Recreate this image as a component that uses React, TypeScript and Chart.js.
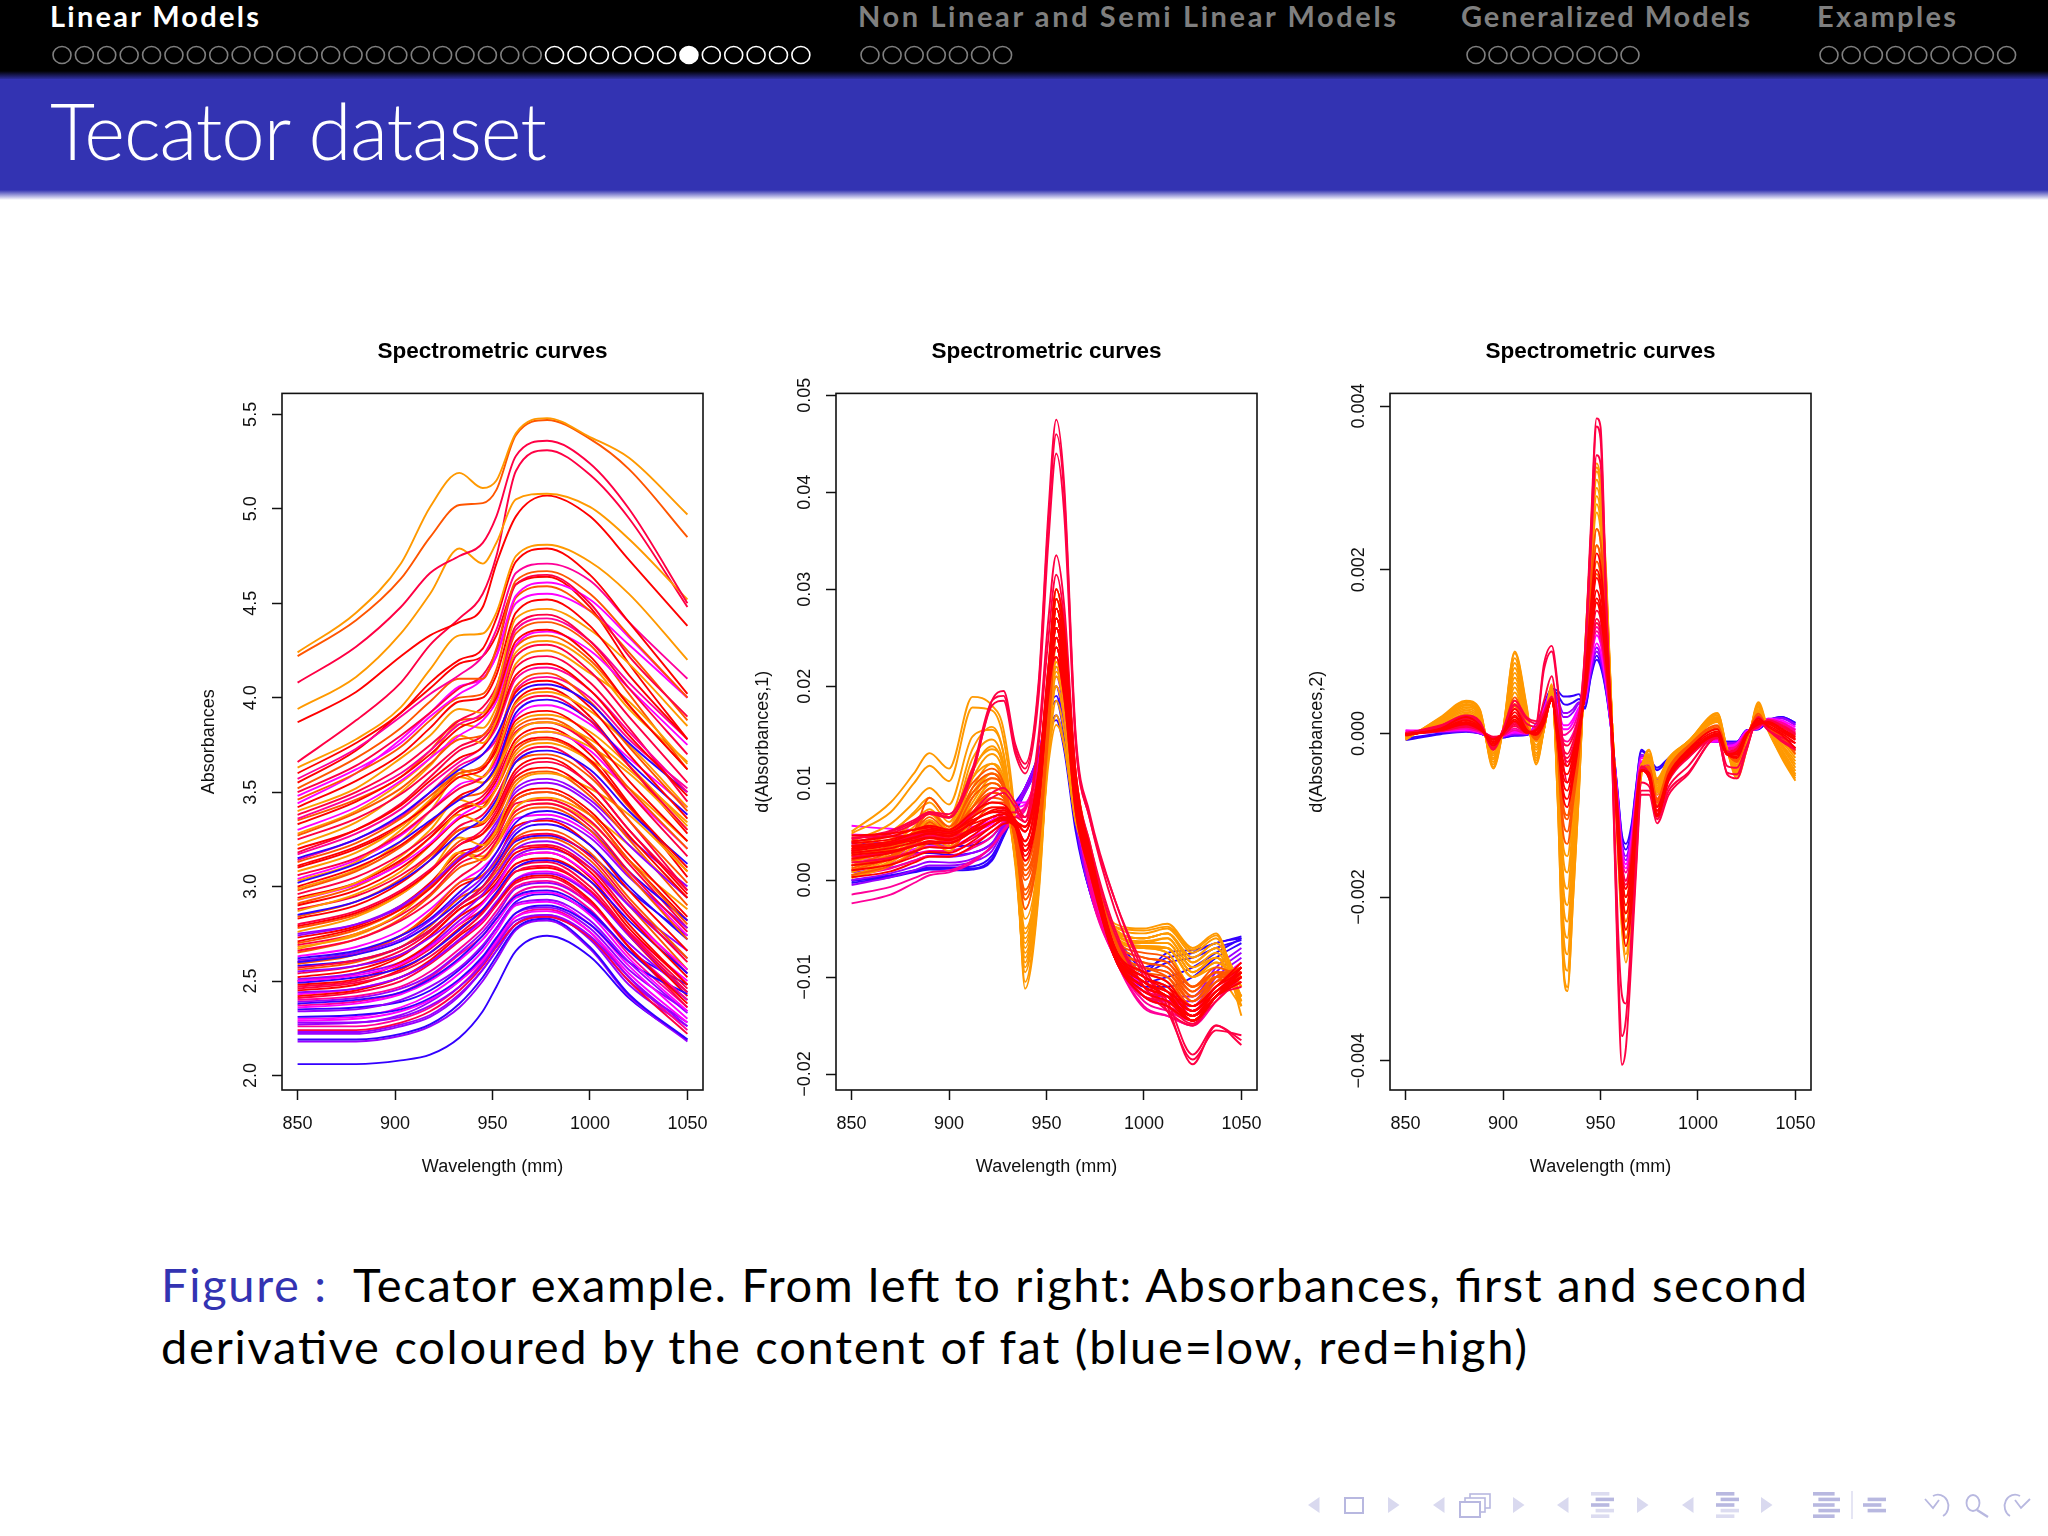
import { useEffect, useRef } from 'react';
import { Chart, registerables } from 'chart.js';

Chart.register(...registerables);

const sans = '"Liberation Sans", Arial, sans-serif';
const slideFont = 'Lato, "Noto Sans", sans-serif';

// fat classes, low to high
const fatPalette = ['#3300ff', '#9900ff', '#ff00ff', '#ff0099', '#ff0044', '#ff0000', '#ff5500', '#ff9900'];
// draw rank of each fat class in the derivative panels, lowest is on top
const fatLayers = [7, 6, 5, 4, 1, 0, 2, 3];

const xTicks = [850, 900, 950, 1000, 1050];
const xTickLabels = ['850', '900', '950', '1000', '1050'];

// --- absorbances
const absorbanceWavelengths = [850, 880, 903, 918, 933, 945, 952, 962, 978, 1000, 1020, 1050];
const absorbanceTicks = [2, 2.5, 3, 3.5, 4, 4.5, 5, 5.5];
const absorbanceTickLabels = ['2.0', '2.5', '3.0', '3.5', '4.0', '4.5', '5.0', '5.5'];
const absorbanceFat = [7, 6, 4, 7, 5, 4, 7, 5, 3, 6, 4, 2, 6, 5, 7, 4, 3, 5, 2, 6, 4, 7, 5, 3, 0, 6, 5, 7, 4, 0, 5, 7, 6, 4, 7, 2, 5, 7, 0, 6, 4, 5, 7, 1, 5, 6, 7, 4, 6, 0, 1, 0, 6, 4, 1, 5, 2, 0, 5, 4, 1, 5, 3, 0, 2, 1, 0, 2, 1, 4, 1, 0, 1, 0,
  5, 2, 6, 7, 4, 3, 5, 2, 7, 5, 6, 4, 5, 6, 1, 5, 4, 7, 2, 5, 0, 6, 4, 1, 5, 4, 5, 2, 4, 1, 3, 0, 2, 1, 3, 1];
const absorbanceCurves = [
  [4.24, 4.45, 4.71, 5.01, 5.19, 5.11, 5.15, 5.40, 5.48, 5.38, 5.27, 4.97],
  [4.22, 4.41, 4.63, 4.85, 5.02, 5.03, 5.10, 5.39, 5.47, 5.37, 5.21, 4.85],
  [4.08, 4.27, 4.48, 4.66, 4.75, 4.82, 4.96, 5.28, 5.36, 5.24, 5.00, 4.50],
  [3.94, 4.11, 4.34, 4.55, 4.79, 4.71, 4.82, 5.05, 5.08, 5.01, 4.84, 4.52],
  [3.87, 4.03, 4.22, 4.33, 4.40, 4.48, 4.71, 4.96, 5.07, 4.96, 4.73, 4.38],
  [3.66, 3.88, 4.08, 4.28, 4.42, 4.55, 4.75, 5.20, 5.31, 5.18, 4.95, 4.48],
  [3.63, 3.78, 3.95, 4.15, 4.33, 4.34, 4.45, 4.75, 4.81, 4.72, 4.55, 4.20],
  [3.60, 3.76, 3.92, 4.08, 4.20, 4.26, 4.42, 4.72, 4.79, 4.65, 4.40, 4.02],
  [3.57, 3.73, 3.90, 4.02, 4.12, 4.22, 4.36, 4.66, 4.71, 4.62, 4.40, 4.10],
  [3.52, 3.68, 3.84, 3.98, 4.10, 4.10, 4.26, 4.62, 4.67, 4.55, 4.33, 4.00],
  [3.50, 3.64, 3.80, 3.92, 4.05, 4.12, 4.25, 4.60, 4.65, 4.50, 4.22, 3.90],
  [3.48, 3.62, 3.76, 3.90, 4.02, 4.10, 4.22, 4.54, 4.61, 4.52, 4.32, 4.00],
  [3.46, 3.60, 3.74, 3.88, 4.00, 4.02, 4.15, 4.53, 4.59, 4.46, 4.24, 3.88],
  [3.42, 3.56, 3.70, 3.84, 3.98, 4.00, 4.12, 4.45, 4.52, 4.38, 4.12, 3.78],
  [3.40, 3.52, 3.68, 3.80, 3.94, 3.92, 4.05, 4.42, 4.47, 4.36, 4.18, 3.85],
  [3.38, 3.50, 3.63, 3.75, 3.88, 3.95, 4.06, 4.38, 4.44, 4.30, 4.05, 3.70],
  [3.36, 3.48, 3.60, 3.72, 3.86, 3.92, 4.04, 4.36, 4.42, 4.30, 4.08, 3.78],
  [3.33, 3.45, 3.58, 3.70, 3.84, 3.90, 4.00, 4.30, 4.36, 4.22, 3.96, 3.62],
  [3.30, 3.42, 3.56, 3.68, 3.80, 3.88, 3.98, 4.28, 4.35, 4.25, 4.05, 3.75],
  [3.27, 3.39, 3.52, 3.65, 3.78, 3.80, 3.92, 4.27, 4.33, 4.20, 3.96, 3.62],
  [3.25, 3.36, 3.49, 3.61, 3.74, 3.80, 3.90, 4.22, 4.28, 4.14, 3.90, 3.55],
  [3.22, 3.34, 3.50, 3.64, 3.80, 3.76, 3.88, 4.18, 4.25, 4.13, 3.98, 3.65],
  [3.20, 3.30, 3.43, 3.56, 3.68, 3.74, 3.86, 4.12, 4.18, 4.04, 3.80, 3.48],
  [3.17, 3.28, 3.41, 3.54, 3.66, 3.74, 3.84, 4.10, 4.16, 4.04, 3.82, 3.50],
  [3.15, 3.25, 3.38, 3.50, 3.62, 3.70, 3.80, 4.01, 4.07, 3.97, 3.76, 3.50],
  [3.13, 3.23, 3.36, 3.48, 3.60, 3.64, 3.76, 4.06, 4.13, 3.98, 3.74, 3.40],
  [3.11, 3.21, 3.33, 3.44, 3.58, 3.62, 3.74, 4.03, 4.09, 3.95, 3.70, 3.36],
  [3.08, 3.18, 3.32, 3.46, 3.62, 3.58, 3.70, 3.97, 4.03, 3.93, 3.75, 3.42],
  [3.06, 3.15, 3.28, 3.40, 3.52, 3.58, 3.68, 3.95, 4.01, 3.88, 3.64, 3.30],
  [3.02, 3.12, 3.24, 3.35, 3.46, 3.54, 3.64, 3.92, 3.99, 3.88, 3.66, 3.38],
  [3.00, 3.10, 3.22, 3.34, 3.48, 3.54, 3.64, 3.88, 3.93, 3.80, 3.56, 3.24],
  [3.03, 3.13, 3.30, 3.44, 3.60, 3.55, 3.62, 3.81, 3.87, 3.78, 3.62, 3.34],
  [2.98, 3.08, 3.21, 3.33, 3.47, 3.50, 3.60, 3.84, 3.89, 3.76, 3.52, 3.20],
  [2.96, 3.05, 3.17, 3.28, 3.42, 3.48, 3.58, 3.82, 3.87, 3.75, 3.50, 3.16],
  [2.93, 3.02, 3.16, 3.30, 3.46, 3.42, 3.52, 3.76, 3.82, 3.74, 3.60, 3.30],
  [2.93, 3.01, 3.12, 3.23, 3.37, 3.45, 3.54, 3.76, 3.82, 3.72, 3.50, 3.20],
  [2.90, 2.98, 3.10, 3.22, 3.36, 3.42, 3.52, 3.74, 3.79, 3.67, 3.43, 3.10],
  [2.87, 2.96, 3.08, 3.22, 3.38, 3.34, 3.44, 3.70, 3.76, 3.67, 3.52, 3.24],
  [2.85, 2.92, 3.03, 3.14, 3.28, 3.36, 3.46, 3.66, 3.72, 3.62, 3.40, 3.12],
  [2.84, 2.92, 3.04, 3.16, 3.30, 3.34, 3.44, 3.66, 3.70, 3.58, 3.35, 3.02],
  [2.80, 2.87, 2.98, 3.09, 3.22, 3.30, 3.40, 3.60, 3.66, 3.54, 3.30, 2.98],
  [2.79, 2.86, 2.97, 3.08, 3.22, 3.28, 3.38, 3.58, 3.63, 3.50, 3.27, 2.94],
  [2.76, 2.84, 2.96, 3.08, 3.26, 3.22, 3.30, 3.54, 3.60, 3.52, 3.38, 3.08],
  [2.74, 2.80, 2.90, 3.01, 3.15, 3.24, 3.34, 3.50, 3.55, 3.44, 3.22, 2.94],
  [2.71, 2.78, 2.88, 2.99, 3.14, 3.22, 3.30, 3.48, 3.52, 3.40, 3.17, 2.84],
  [2.70, 2.77, 2.88, 3.00, 3.16, 3.20, 3.28, 3.46, 3.50, 3.38, 3.14, 2.80],
  [2.67, 2.75, 2.86, 3.00, 3.18, 3.14, 3.22, 3.42, 3.47, 3.38, 3.22, 2.94],
  [2.66, 2.72, 2.82, 2.92, 3.05, 3.14, 3.24, 3.40, 3.44, 3.32, 3.08, 2.76],
  [2.65, 2.72, 2.83, 2.95, 3.10, 3.15, 3.22, 3.38, 3.42, 3.30, 3.06, 2.72],
  [2.62, 2.66, 2.74, 2.83, 2.97, 3.08, 3.18, 3.34, 3.40, 3.30, 3.08, 2.82],
  [2.61, 2.65, 2.72, 2.82, 2.95, 3.05, 3.15, 3.30, 3.36, 3.26, 3.05, 2.78],
  [2.60, 2.64, 2.71, 2.80, 2.92, 3.03, 3.12, 3.28, 3.33, 3.22, 3.00, 2.72],
  [2.59, 2.64, 2.74, 2.86, 3.02, 3.06, 3.13, 3.26, 3.30, 3.18, 2.94, 2.62],
  [2.57, 2.61, 2.68, 2.77, 2.90, 3.00, 3.10, 3.25, 3.28, 3.16, 2.92, 2.60],
  [2.55, 2.58, 2.64, 2.73, 2.85, 2.96, 3.06, 3.20, 3.24, 3.12, 2.90, 2.62],
  [2.52, 2.56, 2.64, 2.74, 2.88, 2.96, 3.04, 3.18, 3.21, 3.08, 2.84, 2.52],
  [2.50, 2.53, 2.59, 2.68, 2.80, 2.91, 3.00, 3.15, 3.18, 3.06, 2.84, 2.56],
  [2.49, 2.52, 2.57, 2.65, 2.77, 2.88, 2.97, 3.10, 3.14, 3.03, 2.82, 2.54],
  [2.48, 2.51, 2.60, 2.70, 2.84, 2.92, 2.99, 3.12, 3.15, 3.03, 2.78, 2.48],
  [2.46, 2.49, 2.55, 2.63, 2.75, 2.86, 2.95, 3.08, 3.11, 2.98, 2.75, 2.44],
  [2.44, 2.46, 2.52, 2.60, 2.72, 2.83, 2.92, 3.04, 3.07, 2.96, 2.74, 2.44],
  [2.42, 2.45, 2.52, 2.61, 2.74, 2.83, 2.91, 3.03, 3.06, 2.93, 2.68, 2.38],
  [2.40, 2.42, 2.47, 2.55, 2.67, 2.78, 2.87, 3.00, 3.03, 2.91, 2.68, 2.40],
  [2.38, 2.40, 2.44, 2.51, 2.62, 2.74, 2.83, 2.95, 2.98, 2.87, 2.66, 2.40],
  [2.36, 2.38, 2.43, 2.50, 2.61, 2.72, 2.81, 2.94, 2.97, 2.85, 2.62, 2.34],
  [2.34, 2.35, 2.40, 2.47, 2.57, 2.69, 2.78, 2.91, 2.93, 2.82, 2.60, 2.33],
  [2.31, 2.32, 2.35, 2.41, 2.51, 2.63, 2.73, 2.86, 2.90, 2.80, 2.60, 2.43],
  [2.29, 2.30, 2.34, 2.40, 2.50, 2.61, 2.71, 2.84, 2.87, 2.76, 2.54, 2.28],
  [2.27, 2.28, 2.31, 2.37, 2.47, 2.59, 2.69, 2.82, 2.85, 2.74, 2.52, 2.26],
  [2.24, 2.24, 2.28, 2.34, 2.45, 2.58, 2.68, 2.80, 2.84, 2.73, 2.50, 2.22],
  [2.23, 2.23, 2.27, 2.32, 2.43, 2.56, 2.66, 2.80, 2.84, 2.73, 2.50, 2.28],
  [2.19, 2.19, 2.22, 2.27, 2.38, 2.52, 2.63, 2.78, 2.83, 2.68, 2.43, 2.19],
  [2.18, 2.18, 2.21, 2.26, 2.36, 2.50, 2.61, 2.77, 2.82, 2.67, 2.42, 2.18],
  [2.06, 2.06, 2.08, 2.11, 2.20, 2.34, 2.47, 2.66, 2.74, 2.63, 2.41, 2.19],
  [3.55, 3.72, 3.92, 4.05, 4.18, 4.22, 4.33, 4.60, 4.64, 4.48, 4.18, 3.78],
  [3.44, 3.60, 3.78, 3.92, 4.06, 4.10, 4.22, 4.50, 4.55, 4.46, 4.28, 4.00],
  [3.35, 3.46, 3.58, 3.72, 3.88, 3.90, 4.02, 4.34, 4.40, 4.28, 4.02, 3.62],
  [3.28, 3.40, 3.55, 3.68, 3.86, 3.84, 3.95, 4.24, 4.30, 4.18, 3.94, 3.66],
  [3.18, 3.30, 3.44, 3.58, 3.72, 3.78, 3.88, 4.16, 4.22, 4.08, 3.84, 3.45],
  [3.14, 3.25, 3.37, 3.50, 3.64, 3.70, 3.78, 4.04, 4.11, 4.00, 3.78, 3.52],
  [3.10, 3.20, 3.32, 3.45, 3.60, 3.63, 3.72, 3.98, 4.05, 3.90, 3.64, 3.28],
  [3.04, 3.14, 3.27, 3.40, 3.54, 3.58, 3.66, 3.90, 3.96, 3.86, 3.68, 3.42],
  [2.99, 3.09, 3.24, 3.40, 3.58, 3.55, 3.62, 3.86, 3.91, 3.82, 3.64, 3.32],
  [2.94, 3.02, 3.14, 3.26, 3.40, 3.46, 3.56, 3.78, 3.84, 3.70, 3.44, 3.05],
  [2.91, 3.00, 3.13, 3.26, 3.42, 3.44, 3.52, 3.72, 3.78, 3.66, 3.42, 3.08],
  [2.88, 2.95, 3.06, 3.17, 3.32, 3.38, 3.48, 3.68, 3.74, 3.60, 3.35, 2.98],
  [2.83, 2.90, 3.02, 3.14, 3.30, 3.33, 3.42, 3.62, 3.68, 3.54, 3.30, 2.96],
  [2.78, 2.85, 2.96, 3.08, 3.24, 3.28, 3.36, 3.56, 3.61, 3.48, 3.25, 2.90],
  [2.75, 2.80, 2.89, 3.00, 3.14, 3.22, 3.32, 3.52, 3.57, 3.46, 3.26, 3.00],
  [2.73, 2.79, 2.90, 3.02, 3.18, 3.22, 3.30, 3.46, 3.50, 3.38, 3.14, 2.82],
  [2.69, 2.75, 2.85, 2.96, 3.12, 3.18, 3.26, 3.44, 3.46, 3.35, 3.12, 2.78],
  [2.68, 2.74, 2.86, 3.00, 3.18, 3.16, 3.24, 3.40, 3.44, 3.34, 3.14, 2.88],
  [2.63, 2.68, 2.77, 2.88, 3.02, 3.10, 3.18, 3.36, 3.38, 3.28, 3.06, 2.74],
  [2.60, 2.65, 2.74, 2.85, 3.00, 3.06, 3.14, 3.32, 3.35, 3.22, 2.98, 2.66],
  [2.58, 2.61, 2.68, 2.77, 2.90, 3.00, 3.10, 3.24, 3.27, 3.17, 2.98, 2.74],
  [2.56, 2.60, 2.68, 2.79, 2.94, 3.00, 3.08, 3.22, 3.26, 3.14, 2.90, 2.56],
  [2.54, 2.58, 2.66, 2.76, 2.90, 2.98, 3.06, 3.20, 3.22, 3.10, 2.86, 2.54],
  [2.51, 2.54, 2.60, 2.69, 2.82, 2.92, 3.01, 3.16, 3.20, 3.10, 2.90, 2.66],
  [2.50, 2.54, 2.63, 2.74, 2.88, 2.95, 3.02, 3.15, 3.18, 3.05, 2.80, 2.48],
  [2.47, 2.50, 2.58, 2.67, 2.80, 2.88, 2.96, 3.10, 3.13, 3.00, 2.76, 2.46],
  [2.45, 2.48, 2.56, 2.65, 2.78, 2.87, 2.95, 3.08, 3.10, 2.98, 2.74, 2.42],
  [2.43, 2.46, 2.52, 2.60, 2.72, 2.82, 2.91, 3.04, 3.08, 2.97, 2.76, 2.50],
  [2.41, 2.44, 2.50, 2.59, 2.71, 2.81, 2.90, 3.02, 3.05, 2.92, 2.68, 2.36],
  [2.39, 2.41, 2.46, 2.53, 2.65, 2.76, 2.85, 2.99, 3.02, 2.91, 2.70, 2.44],
  [2.37, 2.39, 2.44, 2.52, 2.64, 2.74, 2.83, 2.96, 3.00, 2.88, 2.64, 2.36],
  [2.35, 2.36, 2.39, 2.45, 2.56, 2.68, 2.78, 2.92, 2.96, 2.86, 2.66, 2.48],
  [2.30, 2.31, 2.36, 2.43, 2.54, 2.66, 2.76, 2.90, 2.92, 2.80, 2.58, 2.30],
  [2.28, 2.28, 2.32, 2.39, 2.50, 2.62, 2.72, 2.86, 2.89, 2.78, 2.56, 2.34],
  [2.26, 2.26, 2.30, 2.36, 2.47, 2.60, 2.70, 2.84, 2.88, 2.76, 2.52, 2.24],
  [2.22, 2.22, 2.26, 2.31, 2.42, 2.56, 2.66, 2.80, 2.85, 2.72, 2.48, 2.26],
];

// --- first derivative, values in units of 0.001
const firstWavelengths = [850, 870, 882, 890, 900, 912, 922, 928, 934, 939, 946, 951, 955, 959, 965, 972, 985, 1000, 1012, 1025, 1037, 1050];
const firstTicks = [-0.02, -0.01, 0, 0.01, 0.02, 0.03, 0.04, 0.05];
const firstTickLabels = ['\u22120.02', '\u22120.01', '0.00', '0.01', '0.02', '0.03', '0.04', '0.05'];
const firstFat = [7, 7, 7, 7, 7, 7, 7, 7, 7, 7, 7, 7, 7, 7, 7, 7, 6, 6, 6, 6, 6, 6, 6, 6, 6, 6, 5, 5, 5, 5, 5, 5, 5, 5, 5, 5, 5, 5, 5, 4, 4, 4, 4, 4, 4, 4, 4, 4, 3, 3, 3, 3, 2, 2, 2, 1, 1, 1, 0, 0, 0, 0, 0];
const firstCurves = [
  [5, 8, 11, 13.1, 11.5, 18.9, 18, 15.5, 6, -11.2, -1.5, 14, 23, 19.5, 8, 2.5, -4.5, -5, -4.5, -7, -5.5, -14],
  [4.8, 7, 10, 11.8, 10.2, 17.8, 17.5, 14.5, 5, -10.5, -1, 14, 22, 18.5, 8, 2.5, -4.8, -5.2, -4.8, -7.2, -5.7, -13],
  [4, 5.8, 8, 9.5, 7.8, 14.8, 15.5, 13, 3.5, -9.5, 0, 14.5, 22.5, 19, 8, 3, -4.8, -5.5, -5, -7.5, -6, -12.5],
  [3.5, 5, 6.8, 8, 6, 11.5, 13.5, 11.5, 1.5, -7.5, 0.5, 14, 20, 17, 7, 3, -5, -6, -5.5, -8, -6.5, -11],
  [3.2, 4.8, 7, 8.5, 6.5, 13.5, 15.8, 13, 3, -8, 1, 15, 23, 19.5, 8, 3, -5, -6, -5.5, -8, -6.5, -12],
  [2.8, 4.2, 6, 7, 5.2, 10.5, 12, 10.5, 2, -9, 0, 13, 18.5, 15.5, 6.5, 2.5, -5.5, -6, -5.5, -8.5, -7, -12.5],
  [2.5, 4, 6, 7.3, 5.5, 12.5, 14.5, 12, 3, -7, 1.5, 16, 25, 21, 9, 3, -5.2, -6, -5.5, -8.5, -7, -11],
  [2, 3.6, 5.5, 6.8, 5.2, 11.2, 13.8, 11.5, 2.5, -6, 2, 18, 27, 23, 9.5, 3, -5.5, -6.3, -6, -9, -7.5, -12],
  [1.8, 3.2, 5, 6.2, 4.8, 9, 11, 9.8, 2.5, -8.5, 0.5, 12, 16, 14, 6, 2.5, -5.5, -6.5, -6, -9, -8, -10],
  [1.5, 3, 5, 6, 4.5, 10.5, 13, 11, 3, -5, 2.5, 20, 29, 25, 10.5, 3.5, -5.5, -6.5, -6.5, -9.5, -8, -13],
  [1.2, 2.8, 4.8, 5.8, 4.2, 8, 10.5, 9.5, 2, -6.5, 1.5, 14, 21.5, 18, 7, 3, -5.5, -6.5, -6.5, -9.5, -8, -12],
  [1, 2.5, 4.5, 5.5, 4.2, 9.5, 12, 10, 3, -4, 3, 20, 30, 26, 11, 3.5, -5.8, -6.8, -7, -10, -8.5, -11],
  [0.8, 2.2, 4.2, 5.2, 3.8, 7.5, 10, 9, 2, -5.5, 2, 15, 24, 20, 7.5, 3, -5.8, -6.8, -7, -10, -8.5, -11],
  [0.5, 2, 4, 5, 3.8, 8.5, 11, 9.5, 3, -3, 3.5, 15, 20, 17, 7, 2.5, -6, -7, -7, -10, -9, -10],
  [0.3, 1.8, 3.5, 4.5, 3.5, 7.5, 10, 9, 3, -2, 4, 15, 21, 18, 7.5, 2.5, -6, -7, -7.5, -11, -9.5, -12],
  [0.2, 1.5, 3, 4, 3, 6.5, 9, 8.5, 3, -1, 4, 13, 17, 14, 6, 2, -6, -7, -7.5, -11, -10, -13],
  [1.5, 3, 5, 6.5, 5, 9.5, 11, 9.5, 4, -2, 4, 19, 28, 24, 10, 3, -6, -7.5, -8, -11, -9, -10],
  [2, 3.2, 5, 8.5, 6.5, 10, 11.5, 10, 4.5, -1, 5, 18, 26, 22, 9, 3, -6, -8, -8.5, -11.5, -9.5, -10],
  [1.2, 2.5, 4, 6, 4.5, 8.5, 10, 9, 4.5, 0, 5.5, 19, 27, 23, 9.5, 2.5, -6.5, -8.5, -9, -12, -10, -9.5],
  [2.5, 3.5, 5, 7, 5.5, 9, 10.5, 9.5, 5, 1, 6, 20, 29, 25, 10.5, 3, -6.5, -9, -9.5, -12.5, -10, -9],
  [3, 3.8, 4.8, 5.5, 5, 7.5, 9, 8.5, 5.5, 2, 7, 21, 30, 26, 11, 3, -7, -9, -10, -13, -10.5, -9],
  [1, 2.3, 3.8, 5, 4, 7, 9, 8.5, 4, -3, 3.5, 15, 25, 21, 8, 3, -6, -8, -8.5, -11, -9.5, -10],
  [2.2, 3.3, 4.5, 5.5, 4.5, 7.5, 9.5, 9, 4, -1.5, 4.5, 16, 27, 23, 9, 3, -6.2, -8.5, -9, -11.5, -9.5, -9.5],
  [1.5, 2.5, 3.6, 4.5, 3.8, 6.5, 8.5, 8.2, 4.5, 0.5, 5.5, 17, 28, 24, 9.5, 3.5, -6.5, -9, -9.5, -12, -10, -10],
  [0.5, 1.5, 2.8, 3.8, 3.3, 5.8, 7.5, 7.5, 4.5, 1, 6, 18, 26, 22, 9, 3, -7, -9.5, -10, -12.5, -10.5, -10],
  [2.7, 3.5, 4.6, 5.2, 4.6, 6.5, 8, 8, 5, 1.5, 7, 19, 29, 25, 10, 4, -6.5, -9.5, -10.5, -13, -11, -9],
  [4, 4.5, 5.2, 5.6, 5.2, 7, 8, 7.8, 6, 3, 8, 20, 27, 23, 9.5, 2.5, -7, -9.5, -10.5, -13.5, -11, -9],
  [3.5, 4, 4.8, 5.2, 5, 6.5, 7.5, 7.5, 6, 3.5, 9, 22, 30, 26, 11, 3, -7, -10, -11, -14, -11.5, -9.5],
  [3, 3.6, 4.3, 4.8, 4.6, 6, 7, 7, 5.5, 3, 9, 21, 28, 24, 10, 2.5, -7.5, -10, -11.5, -14.5, -12, -10],
  [3.8, 4.2, 4.8, 5, 4.8, 5.8, 6.5, 6.8, 5.8, 4, 10, 20, 26, 22, 9, 2, -7.5, -10.5, -12, -14, -11.5, -10],
  [2.6, 3, 3.5, 3.8, 3.8, 5, 6, 6.2, 5.5, 4, 10, 20, 27, 23, 9.5, 2, -8, -11, -12, -14.5, -12, -10],
  [3.2, 3.8, 4.4, 4.8, 4.5, 6, 7.2, 7.4, 6, 2.5, 8, 19, 24, 20, 8, 2.5, -7, -10, -11, -13, -11, -9.5],
  [2.2, 2.8, 3.5, 4, 3.8, 5.2, 6.5, 6.8, 5.5, 2, 8, 20, 26, 22, 9, 3, -7.5, -10.5, -11.5, -13.5, -11.5, -10],
  [1.5, 2.1, 2.9, 3.4, 3.3, 4.6, 6, 6.5, 5.8, 3, 9, 20, 25, 21, 8, 2, -7.5, -10.5, -12, -14, -12, -10.5],
  [2.8, 3.3, 3.9, 4.3, 4.1, 5.4, 6.5, 6.8, 6, 4, 10, 21, 28, 24, 9, 3, -7.5, -11, -12, -14.5, -12, -9],
  [4.6, 4.8, 5.2, 5.4, 5, 6.2, 7, 7.2, 6.2, 5, 11, 22, 27, 23, 9, 3, -7, -10.5, -11.5, -13, -11, -8.5],
  [1, 1.6, 2.4, 2.9, 2.8, 4, 5.5, 6.2, 6, 5, 11, 21, 24, 20, 7.5, 1.5, -8, -11.5, -12.5, -14.5, -12, -10],
  [3.4, 3.7, 4.1, 4.4, 4.2, 5, 6, 6.4, 6, 5.5, 11, 22, 29, 25, 10, 3.5, -7.5, -11, -12, -14, -12, -9.5],
  [0.3, 0.9, 1.8, 2.4, 2.4, 3.5, 5, 5.8, 6, 5.5, 11, 21, 23, 19, 7, 1, -8, -12, -13, -14.5, -12, -10],
  [4.2, 5, 6, 7, 6.5, 11, 18.5, 19.5, 14, 12, 20.5, 38, 47.5, 41, 15, 7, -2, -9, -13, -19, -15, -17],
  [4.3, 5.1, 6.2, 7, 6.8, 11.5, 18.5, 19, 13.5, 11.5, 20, 37, 46, 40, 14.5, 6.5, -2, -9.5, -12.5, -18, -15, -16.5],
  [3.9, 4.8, 5.8, 6.8, 6.4, 11, 18, 18.5, 13, 11, 19, 35, 44, 38, 14, 6.5, -3, -10, -13.5, -18.5, -15.5, -16],
  [3, 3.8, 4.5, 5, 4.8, 7, 9, 9.5, 8, 6.5, 15, 27, 33.5, 28.5, 11, 4, -5, -11, -13.5, -15, -12, -11],
  [3.2, 3.9, 4.6, 5, 4.9, 6.8, 8.5, 9, 7.5, 6, 14, 25, 31.5, 27, 10.5, 3.5, -5.5, -11, -13, -14.8, -12, -10.5],
  [2.4, 2.9, 3.6, 4, 3.9, 5, 6, 6.5, 6, 5, 11, 21, 26, 22, 8, 2, -8, -11.5, -12.5, -14, -12, -9.5],
  [1.8, 2.3, 3, 3.4, 3.3, 4.3, 5.5, 6.2, 6, 5.5, 11, 20, 24, 20, 7.5, 1, -8, -12, -13, -14.5, -12.5, -10],
  [3.6, 3.9, 4.3, 4.5, 4.3, 5, 6, 6.5, 6.5, 6, 11, 20, 25, 21, 7.5, 1.5, -7.5, -12, -12.5, -14, -12, -9],
  [4.4, 4.5, 4.6, 4.7, 4.5, 5.2, 6, 6.8, 7, 6.5, 11.5, 20, 23, 19, 7, 1, -7.5, -11.5, -12, -13.5, -11.5, -9],
  [1, 1.7, 2.6, 3, 3, 3.8, 5, 6, 6.5, 6.5, 11, 19, 24, 20, 7.5, 0.5, -7.5, -12, -13, -14, -11.5, -10],
  [0.5, 1.2, 2, 2.5, 2.5, 3.3, 4.5, 6, 7, 7.5, 12, 20, 26, 22, 8.5, 0, -8, -12.5, -13.5, -14.5, -12, -9.5],
  [-1.5, -0.7, 0.2, 0.8, 1, 2, 3.5, 5.2, 6.5, 7.2, 12, 19, 25, 21, 8, -0.5, -8, -13, -14, -15, -12, -10],
  [-2.4, -1.5, -0.3, 0.5, 0.8, 1.8, 3.5, 5, 6.5, 7.5, 12, 21, 28, 24, 9.5, -0.5, -8, -13.2, -14, -15, -12.5, -9.5],
  [2, 2.5, 3.2, 3.5, 3.5, 4.5, 5.5, 6.3, 6.5, 6.5, 11, 20, 27, 23, 9, 0.5, -8, -12, -12.5, -13.5, -11, -9],
  [5.6, 5.3, 5.2, 5.2, 5, 5.5, 6.2, 7.3, 8, 8, 12, 19, 24, 20, 7.5, 1, -7, -11, -12, -13, -10.5, -8.5],
  [4.7, 4.6, 4.6, 4.6, 4.5, 5, 5.8, 6.8, 7.5, 7.8, 12, 19, 23, 19, 7, 0.5, -7, -11.5, -12, -13.5, -11, -9],
  [0.8, 1.3, 2, 2.5, 2.4, 2.8, 3.8, 5.8, 7.5, 9, 12.5, 18, 22, 18, 7, -0.5, -7.5, -12, -12.5, -13, -10, -8],
  [0, 0.7, 1.4, 1.9, 1.8, 2.2, 3.4, 5.5, 7.5, 9.5, 13, 18, 21, 17.5, 6.5, -1, -7.5, -12, -12.5, -12.5, -9.5, -7.5],
  [-0.5, 0.3, 1, 1.5, 1.5, 1.9, 3, 5.2, 7.5, 9.5, 13, 18, 20, 16.5, 6, -1, -7.5, -11.5, -12, -12, -9, -7],
  [0, 0.5, 1, 1.3, 1.3, 1.4, 2.5, 4.8, 7.5, 9.5, 13, 17, 20, 16, 6, -1, -7, -11, -11, -10, -8, -6.5],
  [-0.3, 0.3, 0.8, 1.1, 1, 1.1, 2, 4.5, 7, 9, 12, 15.5, 17, 14, 5.5, -1, -6.5, -10.5, -10, -9, -7.5, -6],
  [-0.1, 0.4, 0.9, 1.2, 1.2, 1.2, 2.2, 4.6, 7.2, 9.2, 12.2, 15.5, 16.5, 13.5, 5, -1, -6.3, -9.5, -7.5, -7.2, -6.5, -5.8],
  [3.8, 3.8, 3.7, 3.7, 3.5, 3.6, 4.5, 6, 8, 9.5, 13, 17.5, 19, 15.5, 6, -0.5, -5.5, -9, -8, -7.5, -6.5, -6],
  [2.8, 2.8, 2.8, 2.8, 2.6, 2.8, 3.8, 5.5, 7.5, 9.2, 12.8, 17, 18.5, 15, 5.8, -0.8, -5.8, -9.5, -8.5, -8, -7, -6.2],
];

// --- second derivative, values in units of 0.001
const secondWavelengths = [850, 868, 881, 888, 895, 900, 906, 912, 917, 921, 925, 928, 931, 933, 936, 939, 942, 945, 948, 950, 953, 956, 959, 961, 963, 966, 968, 971, 975, 979, 985, 995, 1010, 1015, 1020, 1025, 1031, 1036, 1043, 1050];
const secondTicks = [-0.004, -0.002, 0, 0.002, 0.004];
const secondTickLabels = ['\u22120.004', '\u22120.002', '0.000', '0.002', '0.004'];
const secondFat = [7, 7, 7, 7, 7, 7, 7, 7, 7, 7, 6, 6, 6, 6, 5, 5, 5, 5, 5, 5, 4, 4, 4, 4, 4, 4, 3, 3, 2, 2, 1, 1, 0, 0];
const secondCurves = [
  [-0.08, 0.2, 0.4, 0.3, -0.43, 0.05, 1, 0.35, -0.38, 0.05, 0.6, -0.8, -2.9, -3.15, -2, -0.7, 1, 2.4, 3.3, 3.1, 1.9, 0.1, -1.5, -2.4, -2.8, -2.2, -1.4, -0.5, -0.2, -0.55, -0.3, -0.1, 0.25, -0.2, -0.55, -0.2, 0.38, 0.05, -0.3, -0.58],
  [-0.07, 0.19, 0.39, 0.29, -0.41, 0.05, 0.98, 0.33, -0.36, 0.05, 0.58, -0.8, -2.85, -3.1, -2, -0.7, 1, 2.35, 3.25, 3.05, 1.85, 0.1, -1.45, -2.35, -2.7, -2.1, -1.35, -0.5, -0.22, -0.58, -0.3, -0.1, 0.24, -0.2, -0.52, -0.2, 0.36, 0.03, -0.28, -0.55],
  [-0.07, 0.18, 0.38, 0.27, -0.38, 0.05, 0.92, 0.3, -0.33, 0.05, 0.56, -0.75, -2.65, -2.9, -1.85, -0.65, 0.95, 2.3, 3.2, 3, 1.8, 0.1, -1.4, -2.25, -2.6, -2.05, -1.3, -0.45, -0.25, -0.6, -0.32, -0.1, 0.22, -0.2, -0.5, -0.18, 0.35, 0.04, -0.25, -0.52],
  [-0.06, 0.17, 0.36, 0.25, -0.35, 0.04, 0.86, 0.28, -0.3, 0.05, 0.54, -0.7, -2.45, -2.7, -1.7, -0.6, 0.95, 2.25, 3.1, 2.9, 1.75, 0.1, -1.35, -2.15, -2.5, -2, -1.25, -0.45, -0.27, -0.62, -0.33, -0.1, 0.2, -0.2, -0.48, -0.16, 0.33, 0.05, -0.22, -0.5],
  [-0.06, 0.16, 0.34, 0.23, -0.32, 0.04, 0.8, 0.25, -0.27, 0.05, 0.52, -0.62, -2.3, -2.5, -1.6, -0.55, 0.9, 2.15, 3, 2.8, 1.7, 0.1, -1.3, -2.05, -2.4, -1.9, -1.2, -0.42, -0.28, -0.64, -0.34, -0.1, 0.19, -0.2, -0.46, -0.14, 0.32, 0.05, -0.2, -0.46],
  [-0.05, 0.15, 0.32, 0.22, -0.3, 0.03, 0.74, 0.22, -0.24, 0.05, 0.5, -0.55, -2.1, -2.3, -1.5, -0.5, 0.85, 2.1, 2.9, 2.7, 1.65, 0.1, -1.25, -2, -2.3, -1.85, -1.15, -0.4, -0.3, -0.66, -0.35, -0.1, 0.18, -0.21, -0.44, -0.12, 0.3, 0.05, -0.17, -0.42],
  [-0.05, 0.14, 0.3, 0.2, -0.27, 0.03, 0.68, 0.2, -0.2, 0.06, 0.48, -0.48, -1.9, -2.1, -1.35, -0.45, 0.8, 2, 2.8, 2.6, 1.6, 0.1, -1.2, -1.95, -2.2, -1.8, -1.1, -0.4, -0.32, -0.68, -0.36, -0.12, 0.17, -0.21, -0.42, -0.1, 0.28, 0.05, -0.15, -0.38],
  [-0.04, 0.13, 0.28, 0.18, -0.25, 0.03, 0.62, 0.17, -0.17, 0.06, 0.47, -0.4, -1.75, -1.9, -1.2, -0.4, 0.8, 1.95, 2.7, 2.5, 1.55, 0.1, -1.2, -1.95, -2.2, -1.75, -1.1, -0.4, -0.33, -0.7, -0.37, -0.12, 0.16, -0.21, -0.4, -0.1, 0.27, 0.06, -0.13, -0.34],
  [-0.04, 0.12, 0.26, 0.16, -0.23, 0.02, 0.56, 0.15, -0.14, 0.07, 0.46, -0.35, -1.55, -1.7, -1.1, -0.35, 0.75, 1.8, 2.5, 2.35, 1.45, 0.1, -1.15, -1.85, -2.1, -1.7, -1.05, -0.38, -0.35, -0.72, -0.38, -0.13, 0.15, -0.22, -0.38, -0.08, 0.26, 0.06, -0.1, -0.3],
  [-0.04, 0.1, 0.24, 0.14, -0.2, 0.02, 0.5, 0.12, -0.1, 0.08, 0.45, -0.3, -1.4, -1.5, -0.95, -0.3, 0.7, 1.65, 2.3, 2.15, 1.35, 0.1, -1.1, -1.8, -2, -1.6, -1, -0.38, -0.37, -0.75, -0.4, -0.15, 0.14, -0.22, -0.36, -0.07, 0.25, 0.06, -0.08, -0.26],
  [-0.03, 0.09, 0.22, 0.12, -0.2, 0.02, 0.44, 0.1, -0.08, 0.09, 0.44, -0.25, -1.25, -1.35, -0.85, -0.25, 0.75, 1.8, 2.5, 2.35, 1.4, 0.05, -1.3, -2.15, -2.5, -2, -1.2, -0.42, -0.4, -0.8, -0.42, -0.15, 0.1, -0.22, -0.35, -0.05, 0.24, 0.06, -0.05, -0.25],
  [-0.03, 0.08, 0.2, 0.11, -0.18, 0.02, 0.4, 0.08, -0.06, 0.1, 0.43, -0.2, -1.1, -1.2, -0.75, -0.2, 0.7, 1.65, 2.3, 2.15, 1.3, 0.05, -1.25, -2, -2.3, -1.85, -1.15, -0.42, -0.42, -0.82, -0.44, -0.16, 0.08, -0.23, -0.34, -0.05, 0.22, 0.07, -0.05, -0.22],
  [-0.03, 0.07, 0.18, 0.1, -0.17, 0.02, 0.36, 0.07, -0.05, 0.1, 0.42, -0.18, -0.95, -1.05, -0.65, -0.15, 0.65, 1.5, 2.1, 1.95, 1.2, 0.05, -1.2, -1.9, -2.2, -1.8, -1.1, -0.42, -0.44, -0.85, -0.45, -0.18, 0.06, -0.25, -0.33, -0.05, 0.2, 0.08, -0.05, -0.2],
  [-0.03, 0.07, 0.17, 0.09, -0.16, 0.01, 0.33, 0.06, -0.04, 0.11, 0.42, -0.15, -0.9, -1, -0.6, -0.12, 0.6, 1.4, 1.95, 1.8, 1.1, 0.05, -1.1, -1.75, -2, -1.65, -1, -0.42, -0.46, -0.88, -0.47, -0.18, 0.05, -0.25, -0.32, -0.04, 0.19, 0.08, -0.04, -0.18],
  [-0.02, 0.06, 0.2, 0.1, -0.15, 0, 0.3, 0.05, -0.02, 0.12, 0.42, -0.1, -0.8, -0.9, -0.55, -0.08, 0.65, 1.55, 2.2, 2.05, 1.2, 0, -1.4, -2.25, -2.6, -2.1, -1.25, -0.45, -0.48, -0.9, -0.5, -0.2, 0.05, -0.25, -0.3, -0.03, 0.18, 0.08, -0.02, -0.18],
  [-0.02, 0.05, 0.16, 0.08, -0.13, 0, 0.26, 0.04, -0.01, 0.13, 0.42, -0.08, -0.72, -0.8, -0.48, -0.05, 0.6, 1.45, 2, 1.85, 1.1, 0, -1.3, -2.1, -2.4, -1.95, -1.2, -0.45, -0.5, -0.95, -0.52, -0.22, 0.02, -0.26, -0.28, -0.02, 0.16, 0.1, 0, -0.12],
  [-0.02, 0.05, 0.14, 0.07, -0.11, 0, 0.22, 0.03, 0, 0.15, 0.41, -0.05, -0.62, -0.7, -0.4, 0, 0.55, 1.35, 1.9, 1.75, 1.05, 0, -1.2, -1.95, -2.2, -1.8, -1.1, -0.45, -0.52, -1, -0.55, -0.25, 0, -0.26, -0.26, -0.02, 0.14, 0.12, 0.02, -0.08],
  [-0.02, 0.05, 0.13, 0.06, -0.1, 0, 0.2, 0.02, 0.01, 0.16, 0.4, -0.02, -0.54, -0.6, -0.34, 0.03, 0.5, 1.25, 1.75, 1.6, 0.95, 0, -1.15, -1.85, -2.1, -1.7, -1.05, -0.45, -0.53, -1, -0.55, -0.25, -0.01, -0.26, -0.25, -0.01, 0.13, 0.12, 0.03, -0.07],
  [-0.01, 0.04, 0.12, 0.06, -0.08, 0, 0.17, 0.01, 0.03, 0.18, 0.4, 0.02, -0.44, -0.5, -0.28, 0.06, 0.48, 1.18, 1.65, 1.52, 0.9, 0, -1.1, -1.75, -2, -1.65, -1, -0.45, -0.55, -1.02, -0.55, -0.25, -0.02, -0.26, -0.24, -0.01, 0.12, 0.13, 0.05, -0.05],
  [-0.01, 0.04, 0.11, 0.05, -0.07, 0, 0.15, 0.01, 0.04, 0.2, 0.4, 0.05, -0.35, -0.4, -0.22, 0.1, 0.46, 1.12, 1.6, 1.45, 0.85, 0, -1.05, -1.7, -1.9, -1.55, -0.98, -0.45, -0.55, -1, -0.56, -0.27, -0.03, -0.25, -0.22, 0, 0.11, 0.14, 0.06, -0.04],
  [0, 0.1, 0.22, 0.15, -0.2, 0.05, 0.4, 0.2, 0.15, 0.85, 1.07, 0.6, -0.2, -0.35, -0.2, 0.2, 1, 2.5, 3.85, 3.75, 1.6, -0.3, -3, -4.05, -3.85, -2.7, -1.8, -0.75, -0.75, -1.1, -0.75, -0.5, -0.05, -0.5, -0.55, -0.2, 0.2, 0.05, -0.1, -0.2],
  [0, 0.09, 0.2, 0.14, -0.18, 0.04, 0.35, 0.18, 0.12, 0.78, 1, 0.55, -0.22, -0.4, -0.22, 0.18, 0.95, 2.4, 3.75, 3.6, 1.55, -0.3, -2.8, -3.7, -3.5, -2.5, -1.7, -0.7, -0.7, -1.05, -0.7, -0.48, -0.05, -0.48, -0.5, -0.18, 0.18, 0.04, -0.08, -0.18],
  [0, 0.08, 0.18, 0.12, -0.15, 0.03, 0.3, 0.12, 0.08, 0.4, 0.7, 0.2, -0.4, -0.6, -0.35, 0.1, 0.85, 2.2, 3.4, 3.3, 1.45, -0.25, -2.4, -3.2, -3.3, -2.4, -1.6, -0.6, -0.65, -1, -0.65, -0.4, -0.02, -0.4, -0.42, -0.15, 0.15, 0.04, -0.05, -0.12],
  [-0.01, 0.04, 0.1, 0.05, -0.05, -0.01, 0.13, 0.02, 0.05, 0.22, 0.42, 0.1, -0.27, -0.3, -0.16, 0.13, 0.46, 1.08, 1.5, 1.4, 0.8, -0.05, -1.05, -1.7, -1.9, -1.55, -0.98, -0.45, -0.55, -0.98, -0.58, -0.3, -0.04, -0.24, -0.2, 0, 0.1, 0.15, 0.08, -0.02],
  [-0.01, 0.03, 0.09, 0.04, -0.05, -0.01, 0.11, 0.01, 0.05, 0.24, 0.44, 0.13, -0.2, -0.25, -0.1, 0.16, 0.45, 1.02, 1.4, 1.3, 0.75, -0.05, -1, -1.65, -1.85, -1.5, -0.95, -0.42, -0.52, -0.94, -0.56, -0.29, -0.05, -0.23, -0.19, 0, 0.09, 0.15, 0.09, -0.01],
  [0, 0.03, 0.08, 0.04, -0.04, -0.02, 0.09, 0.01, 0.06, 0.25, 0.45, 0.16, -0.12, -0.15, -0.04, 0.2, 0.44, 0.98, 1.35, 1.25, 0.72, -0.05, -0.98, -1.6, -1.8, -1.45, -0.92, -0.4, -0.5, -0.9, -0.55, -0.28, -0.05, -0.22, -0.18, 0, 0.08, 0.16, 0.1, 0],
  [0.01, 0.03, 0.07, 0.03, -0.05, -0.02, 0.06, 0, 0.07, 0.26, 0.47, 0.19, -0.08, -0.1, 0, 0.22, 0.44, 0.95, 1.3, 1.2, 0.7, -0.05, -0.95, -1.58, -1.8, -1.42, -0.9, -0.38, -0.46, -0.84, -0.5, -0.25, -0.06, -0.2, -0.16, 0.01, 0.08, 0.16, 0.12, 0.02],
  [0.02, 0.03, 0.06, 0.02, -0.05, -0.03, 0.04, 0, 0.08, 0.27, 0.48, 0.24, -0.02, 0, 0.08, 0.26, 0.43, 0.92, 1.25, 1.15, 0.66, -0.05, -0.92, -1.52, -1.7, -1.36, -0.88, -0.36, -0.42, -0.8, -0.48, -0.24, -0.07, -0.18, -0.15, 0.01, 0.07, 0.17, 0.13, 0.04],
  [0.04, 0.03, 0.05, 0.02, -0.05, -0.03, 0.03, 0, 0.08, 0.28, 0.5, 0.28, 0.05, 0.05, 0.14, 0.3, 0.42, 0.88, 1.2, 1.1, 0.62, -0.06, -0.9, -1.48, -1.65, -1.32, -0.85, -0.34, -0.4, -0.75, -0.45, -0.22, -0.08, -0.17, -0.13, 0.02, 0.07, 0.17, 0.14, 0.05],
  [0.03, 0.03, 0.04, 0.01, -0.05, -0.03, 0.01, 0, 0.1, 0.3, 0.52, 0.32, 0.1, 0.1, 0.18, 0.32, 0.4, 0.82, 1.1, 1, 0.58, -0.06, -0.85, -1.42, -1.6, -1.26, -0.82, -0.3, -0.38, -0.7, -0.42, -0.2, -0.1, -0.15, -0.12, 0.03, 0.06, 0.18, 0.16, 0.08],
  [0, 0.02, 0.03, 0, -0.06, -0.04, -0.01, -0.01, 0.12, 0.3, 0.52, 0.38, 0.2, 0.2, 0.26, 0.36, 0.38, 0.78, 1.05, 0.95, 0.55, -0.06, -0.82, -1.38, -1.55, -1.22, -0.78, -0.28, -0.34, -0.6, -0.38, -0.18, -0.1, -0.13, -0.12, 0.03, 0.06, 0.18, 0.18, 0.1],
  [0, 0.02, 0.03, 0, -0.06, -0.04, -0.01, -0.01, 0.12, 0.32, 0.53, 0.42, 0.25, 0.25, 0.3, 0.38, 0.36, 0.74, 1, 0.9, 0.52, -0.06, -0.8, -1.34, -1.5, -1.2, -0.76, -0.26, -0.33, -0.56, -0.36, -0.17, -0.1, -0.12, -0.11, 0.03, 0.06, 0.17, 0.19, 0.11],
  [-0.06, 0, 0.03, 0, -0.06, -0.05, -0.03, -0.02, 0.1, 0.35, 0.55, 0.47, 0.36, 0.35, 0.38, 0.42, 0.32, 0.7, 0.95, 0.85, 0.5, -0.06, -0.78, -1.28, -1.42, -1.15, -0.72, -0.22, -0.3, -0.45, -0.32, -0.15, -0.1, -0.1, -0.1, 0.04, 0.05, 0.15, 0.2, 0.13],
  [-0.08, -0.01, 0.02, 0, -0.05, -0.05, -0.02, -0.02, 0.08, 0.3, 0.55, 0.52, 0.45, 0.45, 0.46, 0.48, 0.3, 0.68, 0.9, 0.82, 0.48, -0.06, -0.76, -1.24, -1.35, -1.1, -0.7, -0.2, -0.3, -0.42, -0.3, -0.15, -0.1, -0.1, -0.1, 0.04, 0.05, 0.15, 0.2, 0.13],
];

// R style box round the plot region
const boxPlugin = {
  id: 'plotBox',
  afterDatasetsDraw(chart: any) {
    const { ctx, chartArea: a } = chart;
    ctx.save();
    ctx.strokeStyle = '#111';
    ctx.lineWidth = 1.6;
    ctx.strokeRect(a.left, a.top, a.right - a.left, a.bottom - a.top);
    ctx.restore();
  },
};

interface PanelProps {
  left: number;
  wavelengths: number[];
  curves: number[][];
  fat: number[];
  unit: number;
  yMin: number;
  yMax: number;
  yTicks: number[];
  yTickLabels: string[];
  yTitle: string;
  tickPadding: number;
  layered: boolean;
}

function Panel({ left, wavelengths, curves, fat, unit, yMin, yMax, yTicks, yTickLabels, yTitle, tickPadding, layered }: PanelProps) {
  const canvasRef = useRef<HTMLCanvasElement>(null);

  useEffect(() => {
    if (!canvasRef.current) return;
    const axisFont = { family: sans, size: 18, lineHeight: 1.2 };
    const chart = new Chart(canvasRef.current, {
      type: 'line',
      data: {
        datasets: curves.map((curve, i) => ({
          data: curve.map((v, j) => ({ x: wavelengths[j], y: v * unit })),
          borderColor: fatPalette[fat[i]],
          borderWidth: 1.9,
          pointRadius: 0,
          cubicInterpolationMode: 'monotone',
          order: layered ? fatLayers[fat[i]] : i,
        })),
      },
      options: {
        responsive: false,
        animation: false,
        layout: { autoPadding: false, padding: { right: 30 } },
        plugins: {
          legend: { display: false },
          tooltip: { enabled: false },
          title: {
            display: true,
            text: 'Spectrometric curves',
            color: '#000',
            fullSize: false,
            font: { family: sans, size: 22.5, weight: 'bold', lineHeight: 1.2 },
            padding: { top: 7.8, bottom: 28.6 },
          },
        },
        scales: {
          x: {
            type: 'linear',
            min: 842,
            max: 1058,
            afterBuildTicks: (axis: any) => {
              axis.ticks = xTicks.map((value) => ({ value }));
            },
            afterFit: (axis: any) => {
              axis.height = 100;
            },
            grid: { drawOnChartArea: false, tickLength: 10, tickColor: '#111', tickWidth: 1.5 },
            border: { display: false },
            ticks: {
              color: '#111',
              font: axisFont,
              padding: 13,
              maxRotation: 0,
              autoSkip: false,
              callback: (_v: any, i: number) => xTickLabels[i],
            },
            title: { display: true, text: 'Wavelength (mm)', color: '#111', font: axisFont, padding: { top: 0, bottom: 12.5 } },
          },
          y: {
            min: yMin,
            max: yMax,
            afterBuildTicks: (axis: any) => {
              axis.ticks = yTicks.map((value) => ({ value }));
            },
            afterFit: (axis: any) => {
              axis.width = 100;
            },
            grid: { drawOnChartArea: false, tickLength: 10, tickColor: '#111', tickWidth: 1.5 },
            border: { display: false },
            ticks: {
              color: '#111',
              font: axisFont,
              padding: tickPadding,
              crossAlign: 'center',
              minRotation: 90,
              maxRotation: 90,
              autoSkip: false,
              callback: (_v: any, i: number) => yTickLabels[i],
            },
            title: { display: true, text: yTitle, color: '#111', font: axisFont, padding: { top: 16.3, bottom: 0 } },
          },
        },
      },
      plugins: [boxPlugin],
    } as any);
    return () => chart.destroy();
  }, []);

  return <canvas ref={canvasRef} width={551} height={860} style={{ position: 'absolute', left, top: 330, width: 551, height: 860 }} />;
}

const navGroups = [
  { x: 62, step: 22.39, count: 34 },
  { x: 870, step: 22.1, count: 7 },
  { x: 1476, step: 22, count: 8 },
  { x: 1829, step: 22.2, count: 9 },
];
const navSections = [
  { text: 'Linear Models', x: 50, width: 209, color: '#fff' },
  { text: 'Non Linear and Semi Linear Models', x: 858, width: 538, color: '#7f7f7f' },
  { text: 'Generalized Models', x: 1461, width: 289, color: '#7f7f7f' },
  { text: 'Examples', x: 1817, width: 139, color: '#7f7f7f' },
];

function SlideChrome() {
  const dots: any[] = [];
  navGroups.forEach((g, gi) => {
    for (let i = 0; i < g.count; i++) {
      const active = gi === 0 && i >= 22;
      const current = gi === 0 && i === 28;
      dots.push(
        <ellipse key={gi + '-' + i} cx={g.x + g.step * i} cy={55} rx={9} ry={8.5}
          fill={current ? '#fff' : 'none'} stroke={active ? '#fff' : '#7f7f7f'} strokeWidth={1.6} />
      );
    }
  });

  const leftTri = (x: number) => <path d={`M${x + 11.5} 1497 L${x} 1505 L${x + 11.5} 1513 Z`} fill="#d9d9ef" />;
  const rightTri = (x: number) => <path d={`M${x} 1497 L${x + 11.5} 1505 L${x} 1513 Z`} fill="#d9d9ef" />;
  const bars = (x: number, w: number, colors: string[]) =>
    colors.map((c, i) => <rect key={i} x={x + (i % 2 ? w * 0.2 : 0)} y={1492 + i * 5.6} width={w * 0.8} height={3.6} fill={c} />);
  const light = '#dcdcf0';
  const mid = '#b8b8e0';

  return (
    <svg width={2048} height={1536} style={{ position: 'absolute', left: 0, top: 0 }}>
      <defs>
        <linearGradient id="topShade" x1="0" y1="0" x2="0" y2="1">
          <stop offset="0" stopColor="#000" />
          <stop offset="1" stopColor="#3333b2" />
        </linearGradient>
        <linearGradient id="bottomShade" x1="0" y1="0" x2="0" y2="1">
          <stop offset="0" stopColor="#3333b2" />
          <stop offset="1" stopColor="#fff" />
        </linearGradient>
      </defs>
      <rect x={0} y={0} width={2048} height={72} fill="#000" />
      <rect x={0} y={71} width={2048} height={9} fill="url(#topShade)" />
      <rect x={0} y={79} width={2048} height={111} fill="#3333b2" />
      <rect x={0} y={190} width={2048} height={10} fill="url(#bottomShade)" />

      {navSections.map((s) => (
        <text key={s.text} x={s.x} y={27} fontFamily={slideFont} fontWeight={700} fontSize={29} fill={s.color}
          textLength={s.width} lengthAdjust="spacing">{s.text}</text>
      ))}
      {dots}
      <text x={50} y={160} fontFamily={slideFont} fontWeight={300} fontSize={78} fill="#fff" textLength={497} lengthAdjust="spacing">Tecator dataset</text>

      <text x={161} y={1302} fontFamily={slideFont} fontSize={47} fill="#3333b2" textLength={165} lengthAdjust="spacing">Figure :</text>
      <text x={353} y={1302} fontFamily={slideFont} fontSize={47} fill="#000" textLength={1454} lengthAdjust="spacing">Tecator example. From left to right: Absorbances, first and second</text>
      <text x={161} y={1364} fontFamily={slideFont} fontSize={47} fill="#000" textLength={1366} lengthAdjust="spacing">derivative coloured by the content of fat (blue=low, red=high)</text>

      {leftTri(1308)}
      <rect x={1345} y={1498} width={18} height={15} fill="none" stroke={mid} strokeWidth={2} />
      {rightTri(1388)}
      {leftTri(1433)}
      <rect x={1470} y={1494} width={20} height={14} fill="#fff" stroke={mid} strokeWidth={1.6} />
      <rect x={1465} y={1498} width={20} height={14} fill="#fff" stroke={mid} strokeWidth={1.6} />
      <rect x={1460} y={1502} width={20} height={15} fill="#fff" stroke={mid} strokeWidth={2} />
      {rightTri(1513)}
      {leftTri(1557)}
      {bars(1591, 23, [light, mid, mid, light, light])}
      {rightTri(1637)}
      {leftTri(1682)}
      {bars(1716, 23, [mid, mid, mid, light, light])}
      {rightTri(1761)}
      {bars(1813, 27, [mid, mid, mid, mid, mid])}
      <line x1={1852} y1={1491} x2={1852} y2={1519} stroke={light} strokeWidth={1.5} />
      {bars(1863, 23, ['#fff', mid, mid, mid, '#fff'])}
      <path d="M1933 1496 A10 11 0 1 1 1943 1516 M1925 1499 L1933 1508 L1939 1500" fill="none" stroke={mid} strokeWidth={1.8} />
      <ellipse cx={1973} cy={1503} rx={6.5} ry={8} fill="none" stroke={mid} strokeWidth={1.8} />
      <line x1={1977} y1={1510} x2={1988} y2={1517} stroke={mid} strokeWidth={2.4} />
      <path d="M2020 1496 A10 11 0 1 0 2010 1516 M2030 1499 L2021 1508 L2015 1500" fill="none" stroke={mid} strokeWidth={1.8} />
    </svg>
  );
}

export default function App() {
  return (
    <div style={{ position: 'absolute', left: 0, top: 0, width: 2048, height: 1536, overflow: 'hidden', background: '#fff' }}>
      <SlideChrome />
      <Panel left={182} wavelengths={absorbanceWavelengths} curves={absorbanceCurves} fat={absorbanceFat} unit={1}
        yMin={1.923} yMax={5.611} yTicks={absorbanceTicks} yTickLabels={absorbanceTickLabels} yTitle="Absorbances" tickPadding={8} layered={false} />
      <Panel left={736} wavelengths={firstWavelengths} curves={firstCurves} fat={firstFat} unit={0.001}
        yMin={-0.02165} yMax={0.0502} yTicks={firstTicks} yTickLabels={firstTickLabels} yTitle="d(Absorbances,1)" tickPadding={-2} layered />
      <Panel left={1290} wavelengths={secondWavelengths} curves={secondCurves} fat={secondFat} unit={0.001}
        yMin={-0.004358} yMax={0.004155} yTicks={secondTicks} yTickLabels={secondTickLabels} yTitle="d(Absorbances,2)" tickPadding={-7} layered />
    </div>
  );
}
